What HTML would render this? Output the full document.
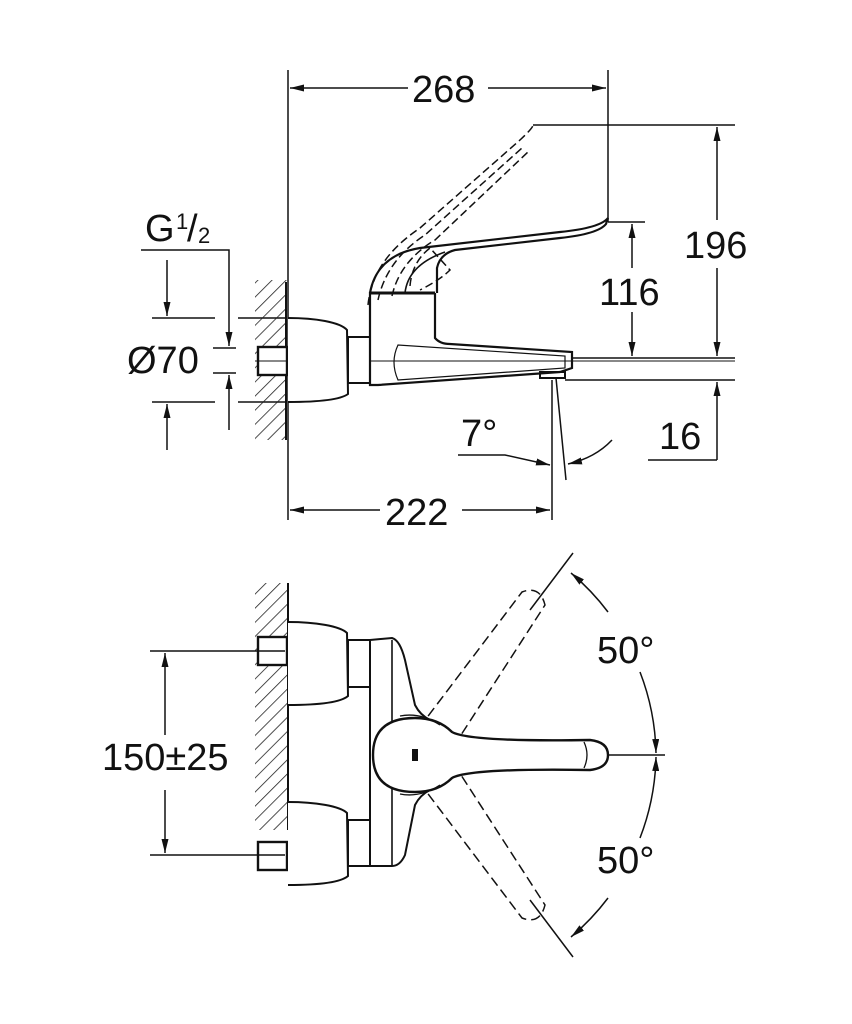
<!DOCTYPE html>
<html><head><meta charset="utf-8"><style>
html,body{margin:0;padding:0;background:#fff;}
svg{display:block;}
text{font-family:"Liberation Sans",Arial,sans-serif;fill:#111;}
</style></head><body>
<svg width="852" height="1024" viewBox="0 0 852 1024" xmlns="http://www.w3.org/2000/svg">
<defs>
<marker id="a" viewBox="0 0 14 7" refX="14" refY="3.5" markerWidth="14" markerHeight="7" orient="auto" markerUnits="userSpaceOnUse"><path d="M0,0 L14,3.5 L0,7 z" fill="#111"/></marker>
<pattern id="h" width="10" height="10" patternUnits="userSpaceOnUse" patternTransform="rotate(45)"><line x1="0" y1="0" x2="0" y2="10" stroke="#222" stroke-width="1.6"/></pattern>
</defs>
<g stroke="#111" fill="none" stroke-width="1.5">
<!-- ===== TOP VIEW ===== -->
<line x1="288" y1="70" x2="288" y2="520"/>
<line x1="608" y1="70" x2="608" y2="222"/>
<line x1="408" y1="88" x2="290" y2="88" marker-end="url(#a)"/>
<line x1="488" y1="88" x2="606" y2="88" marker-end="url(#a)"/>
<!-- 196 -->
<line x1="533" y1="125" x2="735" y2="125"/>
<line x1="560" y1="358" x2="735" y2="358"/>
<line x1="717" y1="220" x2="717" y2="127" marker-end="url(#a)"/>
<line x1="717" y1="268" x2="717" y2="356" marker-end="url(#a)"/>
<!-- 116 -->
<line x1="608" y1="222" x2="645" y2="222"/>
<line x1="632" y1="268" x2="632" y2="224" marker-end="url(#a)"/>
<line x1="632" y1="312" x2="632" y2="356" marker-end="url(#a)"/>
<!-- 16 -->
<line x1="565" y1="380" x2="735" y2="380"/>
<line x1="717" y1="460" x2="717" y2="382" marker-end="url(#a)"/>
<line x1="648" y1="460" x2="717" y2="460"/>
<!-- 7 deg -->
<line x1="552" y1="380" x2="552" y2="520"/>
<line x1="556" y1="378" x2="566" y2="480"/>
<path d="M458,455 L505,455 L550,465" marker-end="url(#a)"/>
<path d="M612,440 Q595,458 568,464" marker-end="url(#a)"/>
<!-- 222 -->
<line x1="380" y1="510" x2="290" y2="510" marker-end="url(#a)"/>
<line x1="462" y1="510" x2="550" y2="510" marker-end="url(#a)"/>
<!-- G1/2 and Ø70 -->
<path d="M141,250 L229,250 L229,346" marker-end="url(#a)"/>
<line x1="167" y1="260" x2="167" y2="316" marker-end="url(#a)"/>
<line x1="152" y1="318" x2="215" y2="318"/><line x1="238" y1="318" x2="287" y2="318"/>
<line x1="213" y1="348" x2="236" y2="348"/>
<line x1="213" y1="373" x2="236" y2="373"/>
<line x1="152" y1="402" x2="215" y2="402"/><line x1="238" y1="402" x2="287" y2="402"/>
<line x1="229" y1="430" x2="229" y2="375" marker-end="url(#a)"/>
<line x1="167" y1="450" x2="167" y2="404" marker-end="url(#a)"/>
<!-- wall hatch top -->
<rect x="255" y="280" width="32" height="160" fill="url(#h)" stroke="none"/>
<line x1="286" y1="282" x2="286" y2="440" stroke-width="2"/>
<rect x="258" y="347" width="29" height="28" fill="#fff" stroke-width="2.4"/>
<line x1="255" y1="361" x2="735" y2="361" stroke-width="1"/>
<!-- escutcheon -->
<path d="M288,318 C315,318 340,322 347,330 L348,394 C340,400 315,402 288,402" fill="#fff" stroke-width="2"/>
<rect x="348" y="337" width="22" height="46" fill="#fff" stroke-width="2"/>
<!-- body & spout -->
<path d="M370,293 L435,293 L435,338 Q440,344 450,344 L572,352 L572,368 L560,372 L378,385 L370,385 Z" fill="#fff" stroke-width="2.2"/>
<path d="M398,345 Q390,362 398,380 L565,368 L565,356 Z" stroke-width="1.2"/>
<line x1="370" y1="361" x2="572" y2="361" stroke-width="1"/>
<rect x="540" y="372" width="25" height="6" stroke-width="2"/>
<!-- handle -->
<path d="M370,293 C375,265 395,252 420,248 L560,232 Q600,228 608,218 L606,224 Q598,234 560,238 L455,250 Q440,254 437,268 L437,293" fill="#fff" stroke-width="2.2"/>
<path d="M405,293 Q408,265 445,252" stroke-width="1.6"/>
<line x1="370" y1="293" x2="435" y2="293" stroke-width="3"/>
<!-- dashed handle -->
<g stroke-dasharray="8,4" stroke-width="1.5">
<path d="M368,305 C372,268 395,245 420,228 L520,140 Q533,128 533,125"/>
<path d="M378,300 C385,268 405,248 425,235 L522,148"/>
<path d="M392,296 C398,268 418,250 435,240 L528,152"/>
<path d="M410,286 Q412,262 430,248 L450,270 Q440,280 420,290"/>
</g>
<!-- ===== BOTTOM VIEW ===== -->
<rect x="255" y="583" width="32" height="247" fill="url(#h)" stroke="none"/>
<line x1="288" y1="583" x2="288" y2="830" stroke-width="2"/>
<rect x="258" y="637" width="29" height="28" fill="#fff" stroke-width="2.4"/>
<rect x="258" y="842" width="29" height="28" fill="#fff" stroke-width="2.4"/>
<line x1="150" y1="651" x2="285" y2="651"/>
<line x1="150" y1="855" x2="285" y2="855"/>
<line x1="165" y1="735" x2="165" y2="653" marker-end="url(#a)"/>
<line x1="165" y1="790" x2="165" y2="853" marker-end="url(#a)"/>
<path d="M288,622 C315,622 340,626 347,633 L348,696 C340,703 315,705 288,705" fill="#fff" stroke-width="2"/>
<path d="M288,802 C315,802 340,806 347,813 L348,876 C340,883 315,885 288,885" fill="#fff" stroke-width="2"/>
<rect x="348" y="640" width="22" height="47" fill="#fff" stroke-width="2"/>
<rect x="348" y="820" width="22" height="46" fill="#fff" stroke-width="2"/>
<path d="M370,640 L392,638 Q400,640 405,660 L415,705 Q420,715 430,720 L430,790 Q420,795 415,805 L405,855 Q400,866 392,866 L370,866 Z" fill="#fff" stroke-width="2"/>
<line x1="392" y1="640" x2="392" y2="866" stroke-width="1.6"/>
<!-- dashed levers -->
<g stroke-dasharray="10,5" stroke-width="1.5">
<path d="M410,740 L522,592 Q540,585 545,605 L450,752"/>
<path d="M410,770 L522,918 Q540,925 545,905 L450,758"/>
</g>
<!-- lever -->
<path d="M415,718 Q438,718 452,732 Q470,742 590,740 Q608,742 608,755 Q608,768 590,770 Q470,768 452,778 Q438,792 415,792 Q373,792 373,755 Q373,718 415,718 Z" fill="#fff" stroke-width="2.4"/>
<path d="M400,716 Q420,712 440,725" stroke-width="1.3"/>
<path d="M400,794 Q420,798 440,785" stroke-width="1.3"/>
<path d="M584,742 Q590,755 584,768" stroke-width="1.3"/>
<rect x="412" y="749" width="6" height="12" fill="#111" stroke="none"/>
<!-- angle dims -->
<line x1="607" y1="755" x2="665" y2="755"/>
<line x1="530" y1="610" x2="573" y2="553"/>
<line x1="530" y1="900" x2="573" y2="957"/>
<path d="M608,612 A238 238 0 0 0 571,573" marker-end="url(#a)"/>
<path d="M640,672 A238 238 0 0 1 656,753" marker-end="url(#a)"/>
<path d="M640,838 A238 238 0 0 0 656,757" marker-end="url(#a)"/>
<path d="M608,898 A238 238 0 0 1 571,937" marker-end="url(#a)"/>
</g>
<g font-size="38">
<text x="412" y="102">268</text>
<text x="684" y="258">196</text>
<text x="599" y="305">116</text>
<text x="659" y="449">16</text>
<text x="461" y="446">7°</text>
<text x="385" y="525">222</text>
<text x="127" y="373">Ø70</text>
<text x="145" y="241">G</text>
<text x="176" y="229" font-size="22">1</text>
<text x="187" y="241">/</text>
<text x="198" y="243" font-size="22">2</text>
<text x="102" y="770">150±25</text>
<text x="597" y="663">50°</text>
<text x="597" y="873">50°</text>
</g>
</svg>
</body></html>
